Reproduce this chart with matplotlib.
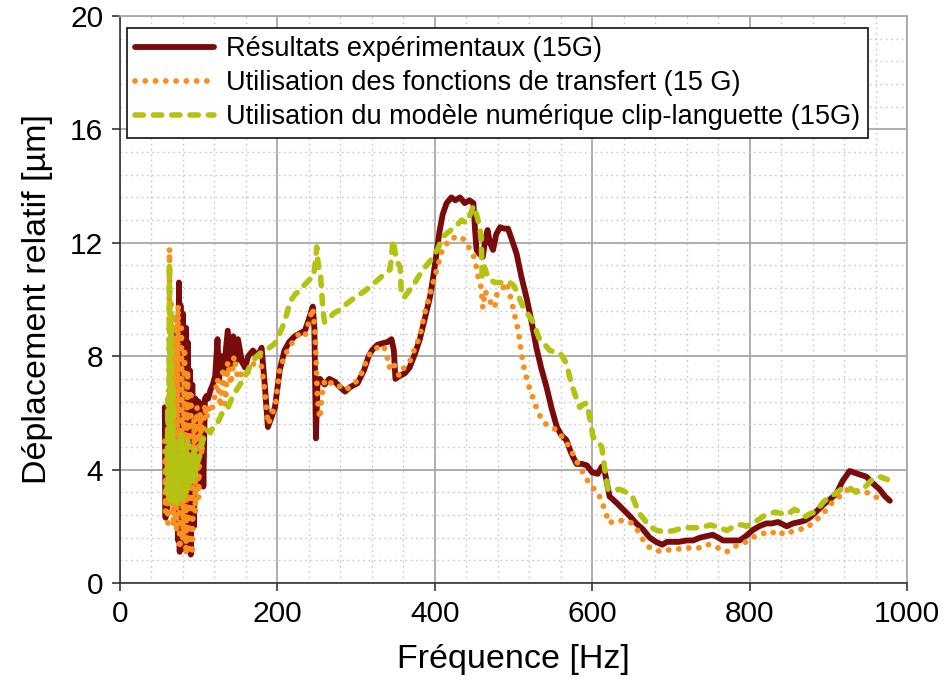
import matplotlib
matplotlib.use("Agg")
import matplotlib.pyplot as plt
from matplotlib.ticker import MultipleLocator

plt.rcParams['font.family'] = ['Liberation Sans', 'DejaVu Sans']

# Experimental measurements (15G)
freq_exp = [57, 58, 59, 60, 62, 63, 64, 65, 66, 67, 68, 70, 72, 74, 75, 76, 77, 78, 80, 82,
            84, 85, 86, 88, 89, 90, 92, 94, 96, 98, 100, 102, 104, 106, 108, 110, 112, 115, 118, 121,
            124, 126, 129, 132, 137, 140, 144, 147, 150, 155, 159, 163, 169, 175, 180, 184, 188, 192, 197, 203,
            209, 215, 222, 228, 235, 240, 245, 247, 249, 251, 254, 260, 266, 273, 280, 286, 292, 302, 310, 316,
            320, 327, 333, 340, 345, 348, 350, 355, 362, 368, 375, 381, 388, 394, 398, 402, 406, 410, 415, 421,
            426, 432, 438, 444, 449, 451, 453, 457, 461, 464, 467, 470, 474, 478, 483, 488, 493, 498, 504, 510,
            517, 523, 529, 535, 542, 548, 555, 561, 567, 573, 580, 587, 593, 600, 607, 612, 616, 622, 630, 639,
            648, 656, 664, 673, 681, 689, 695, 702, 710, 720, 728, 737, 745, 753, 760, 766, 775, 787, 795, 804,
            812, 821, 828, 836, 847, 855, 863, 870, 876, 884, 893, 902, 910, 918, 927, 937, 948, 957, 965, 972,
            978]
disp_exp = [6.2, 2.3, 5.8, 2.6, 5.5, 3.0, 4.5, 3.2, 6.0, 3.0, 7.5, 2.5, 9.0, 1.5, 10.6, 1.1, 9.8, 1.5, 9.5, 1.2,
            9.0, 1.5, 8.5, 1.2, 7.5, 1.0, 7.0, 2.0, 6.5, 3.5, 6.4, 4.0, 6.3, 3.4, 6.5, 6.6, 6.5, 6.8, 7.0, 7.3,
            8.6, 7.2, 8.0, 7.5, 8.9, 7.6, 8.7, 7.8, 8.6, 7.8, 7.6, 8.0, 8.2, 8.0, 8.3, 7.0, 5.5, 5.8, 6.2, 7.5,
            8.2, 8.5, 8.7, 8.8, 8.9, 9.3, 9.75, 9.0, 5.1, 7.0, 7.2, 7.0, 7.2, 7.1, 6.9, 6.75, 6.9, 7.05, 7.5, 8.0,
            8.2, 8.4, 8.45, 8.5, 8.6, 8.2, 7.2, 7.3, 7.4, 7.6, 8.1, 8.6, 9.4, 10.1, 10.8, 11.6, 12.4, 13.0, 13.4, 13.6,
            13.5, 13.6, 13.4, 13.5, 13.4, 12.5, 11.75, 11.6, 11.5, 12.1, 12.45, 12.0, 11.75, 12.3, 12.55, 12.5, 12.5, 12.1, 11.6, 10.8,
            10.0, 9.2, 8.3, 7.6, 6.9, 6.2, 5.5, 5.2, 5.05, 4.6, 4.2, 4.2, 4.15, 3.9, 3.85, 4.1, 3.9, 3.05, 2.85, 2.6,
            2.35, 2.1, 1.9, 1.6, 1.45, 1.35, 1.45, 1.45, 1.45, 1.5, 1.5, 1.6, 1.65, 1.7, 1.6, 1.5, 1.5, 1.5, 1.65, 1.87,
            2.0, 2.1, 2.1, 2.15, 2.0, 2.1, 2.15, 2.2, 2.3, 2.5, 2.75, 2.95, 3.15, 3.6, 3.95, 3.85, 3.75, 3.5, 3.3, 3.05,
            2.9]

# Transfer-function prediction (15 G)
freq_tf = [57, 58, 59, 60, 61, 62, 63, 64, 65, 66, 67, 68, 70, 72, 74, 76, 78, 80, 82, 84,
           86, 88, 90, 92, 94, 96, 98, 100, 102, 104, 106, 108, 110, 113, 116, 120, 124, 128, 131, 134,
           137, 141, 145, 150, 155, 160, 166, 172, 178, 183, 188, 193, 198, 203, 209, 215, 222, 228, 235, 240,
           245, 248, 251, 254, 258, 263, 270, 277, 284, 292, 300, 307, 314, 320, 327, 333, 338, 342, 347, 351,
           355, 361, 368, 375, 381, 387, 393, 399, 404, 410, 416, 422, 428, 434, 440, 444, 447, 451, 455, 459,
           461, 464, 467, 471, 476, 479, 484, 491, 497, 501, 506, 512, 518, 524, 530, 537, 546, 555, 563, 571,
           578, 584, 592, 599, 607, 613, 618, 622, 627, 632, 640, 648, 654, 660, 667, 673, 681, 689, 695, 702,
           710, 720, 728, 737, 744, 750, 756, 762, 771, 777, 782, 789, 796, 804, 810, 818, 826, 831, 836, 841,
           846, 852, 860, 865, 870, 877, 883, 888, 893, 898, 902, 907, 912, 918, 925, 935, 948, 960, 969]
disp_tf = [5.0, 2.5, 4.5, 3.0, 2.1, 6.0, 11.8, 3.0, 10.0, 2.5, 8.5, 2.0, 9.5, 1.8, 9.8, 1.2, 9.0, 1.5, 8.3, 1.0,
           7.5, 1.2, 6.8, 1.0, 5.8, 2.5, 6.2, 3.0, 6.0, 4.5, 5.5, 6.3, 5.8, 6.2, 6.0, 6.5, 7.2, 6.2, 7.6, 6.3,
           7.8, 7.0, 8.0, 7.2, 7.4, 7.3, 7.6, 7.8, 8.0, 7.0, 5.6, 5.9, 6.4, 7.5, 8.0, 8.3, 8.6, 8.8, 8.7, 9.2,
           9.7, 8.8, 6.5, 5.8, 7.0, 7.2, 7.0, 7.0, 6.8, 6.9, 7.1, 7.4, 7.9, 8.2, 8.3, 8.4, 8.2, 7.6, 7.8, 7.5,
           7.3, 7.6, 7.8, 8.3, 8.7, 9.5, 10.1, 10.7, 11.2, 11.8, 12.0, 12.2, 12.15, 12.2, 12.0, 11.8, 11.7, 11.4, 10.8, 10.4,
           9.7, 10.3, 10.1, 9.9, 9.7, 10.2, 10.3, 10.6, 10.0, 9.5, 8.9, 7.75, 7.05, 6.6, 6.1, 5.7, 5.5, 5.4, 5.1, 4.8,
           4.4, 4.1, 3.7, 3.4, 3.2, 2.8, 2.4, 2.1, 2.2, 2.2, 2.2, 2.15, 2.0, 1.75, 1.4, 1.25, 1.15, 1.1, 1.15, 1.2,
           1.2, 1.25, 1.2, 1.25, 1.35, 1.35, 1.3, 1.2, 1.1, 1.2, 1.3, 1.4, 1.45, 1.6, 1.7, 1.75, 1.7, 1.8, 1.85, 1.75,
           1.7, 1.8, 1.85, 1.9, 1.9, 2.05, 2.2, 2.3, 2.45, 2.6, 2.75, 2.9, 3.0, 3.15, 3.3, 3.25, 3.2, 3.05, 2.75]

# Clip/tongue numerical model (15G)
freq_num = [60, 61, 62, 63, 64, 65, 66, 67, 68, 70, 72, 74, 76, 78, 80, 82, 84, 86, 88, 90,
            92, 94, 96, 98, 101, 105, 110, 115, 120, 125, 130, 136, 142, 148, 155, 161, 168, 174, 178, 184,
            190, 197, 203, 209, 214, 218, 223, 228, 234, 241, 246, 249, 250, 252, 255, 257, 258, 260, 265, 271,
            277, 286, 295, 303, 311, 320, 328, 336, 343, 346, 347, 350, 353, 356, 357, 358, 362, 367, 372, 378,
            385, 391, 398, 404, 410, 416, 423, 429, 434, 440, 445, 449, 452, 455, 459, 460, 463, 466, 470, 476,
            483, 489, 495, 500, 504, 508, 512, 518, 525, 533, 540, 546, 553, 559, 564, 567, 571, 575, 580, 584,
            589, 593, 597, 601, 607, 612, 616, 620, 627, 635, 643, 651, 656, 660, 667, 673, 682, 694, 704, 715,
            727, 737, 744, 750, 756, 762, 771, 777, 783, 790, 796, 806, 812, 817, 825, 832, 840, 847, 857, 864,
            871, 877, 883, 889, 895, 901, 906, 916, 927, 935, 944, 952, 958, 965, 975]
disp_num = [3.2, 6.5, 2.9, 11.3, 2.8, 9.5, 2.9, 7.0, 3.0, 5.0, 2.8, 4.5, 3.0, 5.3, 2.8, 4.8, 3.2, 5.0, 3.4, 4.5,
            3.5, 4.8, 3.8, 4.2, 4.45, 5.0, 5.4, 5.3, 5.6, 5.7, 6.0, 6.1, 6.5, 6.8, 7.1, 7.4, 7.8, 8.0, 8.1, 8.2,
            8.3, 8.45, 8.8, 9.2, 9.7, 10.0, 10.2, 10.3, 10.5, 10.7, 10.8, 11.5, 11.85, 11.2, 10.8, 10.0, 9.6, 9.2, 9.3, 9.5,
            9.6, 9.8, 10.0, 10.15, 10.3, 10.5, 10.7, 10.9, 11.05, 11.8, 12.1, 11.6, 11.3, 11.15, 10.5, 10.1, 10.1, 10.3, 10.45, 10.75,
            11.05, 11.25, 11.5, 11.8, 12.2, 12.35, 12.5, 12.65, 12.8, 12.7, 13.0, 13.3, 13.1, 12.8, 12.2, 10.8, 11.15, 10.9, 10.7, 10.6,
            10.6, 10.55, 10.6, 10.5, 10.3, 10.0, 9.75, 9.5, 9.2, 8.6, 8.4, 8.2, 8.15, 8.1, 7.9, 7.75, 7.3, 6.9, 6.5, 6.2,
            6.3, 6.35, 5.8, 5.15, 5.0, 4.8, 4.0, 3.3, 3.3, 3.3, 3.2, 3.05, 2.7, 2.45, 2.2, 2.0, 1.85, 1.8, 1.85, 1.95,
            1.95, 1.95, 2.0, 2.05, 2.0, 1.95, 1.85, 1.95, 2.05, 2.05, 2.0, 2.15, 2.25, 2.35, 2.45, 2.5, 2.45, 2.4, 2.6, 2.5,
            2.35, 2.45, 2.5, 2.7, 2.9, 3.0, 3.1, 3.3, 3.35, 3.2, 3.3, 3.55, 3.7, 3.75, 3.65]

labels = ["Résultats expérimentaux (15G)",
          "Utilisation des fonctions de transfert (15 G)",
          "Utilisation du modèle numérique clip-languette (15G)"]

fig = plt.figure(figsize=(9.44, 6.96), dpi=100)
ax = fig.add_axes([0.127, 0.1624, 0.834, 0.8146])

ax.plot(freq_exp, disp_exp, color='#7A0B0B', lw=4.2, solid_joinstyle='round',
        solid_capstyle='round', label=labels[0], zorder=3)
ax.plot(freq_tf, disp_tf, color='#F7901E', lw=4.2, linestyle=(0, (0.01, 1.75)),
        dash_capstyle='round', label=labels[1], zorder=4)
ax.plot(freq_num, disp_num, color='#B4C312', lw=4.0, linestyle=(0, (1.5, 1.8)),
        dash_capstyle='round', label=labels[2], zorder=5)

ax.set_xlim(0, 1000)
ax.set_ylim(0, 20)
ax.xaxis.set_major_locator(MultipleLocator(200))
ax.xaxis.set_minor_locator(MultipleLocator(40))
ax.yaxis.set_major_locator(MultipleLocator(4))
ax.yaxis.set_minor_locator(MultipleLocator(0.8))

ax.grid(which='major', color='#A8A8A8', lw=1.3, linestyle='-', zorder=1)
ax.grid(which='minor', color='#C8C8C8', lw=1.0, linestyle=(0, (1.2, 2.6)), zorder=1)
ax.set_axisbelow(True)

for side in ('top', 'right'):
    ax.spines[side].set_color('#A8A8A8')
    ax.spines[side].set_linewidth(1.3)
for side in ('left', 'bottom'):
    ax.spines[side].set_color('#333333')
    ax.spines[side].set_linewidth(1.2)

ax.tick_params(which='major', direction='out', length=6, width=1.2, color='#333333',
               labelsize=21.5, pad=6)
ax.tick_params(which='minor', length=0)
ax.tick_params(top=False, right=False)

ax.set_xlabel("Fréquence [Hz]", fontsize=24.5, labelpad=12)
ax.set_ylabel("Déplacement relatif [µm]", fontsize=24.5, labelpad=12)

leg = ax.legend(loc='upper left', bbox_to_anchor=(0.009, 0.979), borderaxespad=0,
                fontsize=19.5, frameon=True, fancybox=False, framealpha=1,
                edgecolor='#222222', handlelength=2.9, handletextpad=0.45,
                labelspacing=0.3, borderpad=0.3)
leg.get_frame().set_linewidth(1.3)

fig.savefig("out.png", dpi=100)
